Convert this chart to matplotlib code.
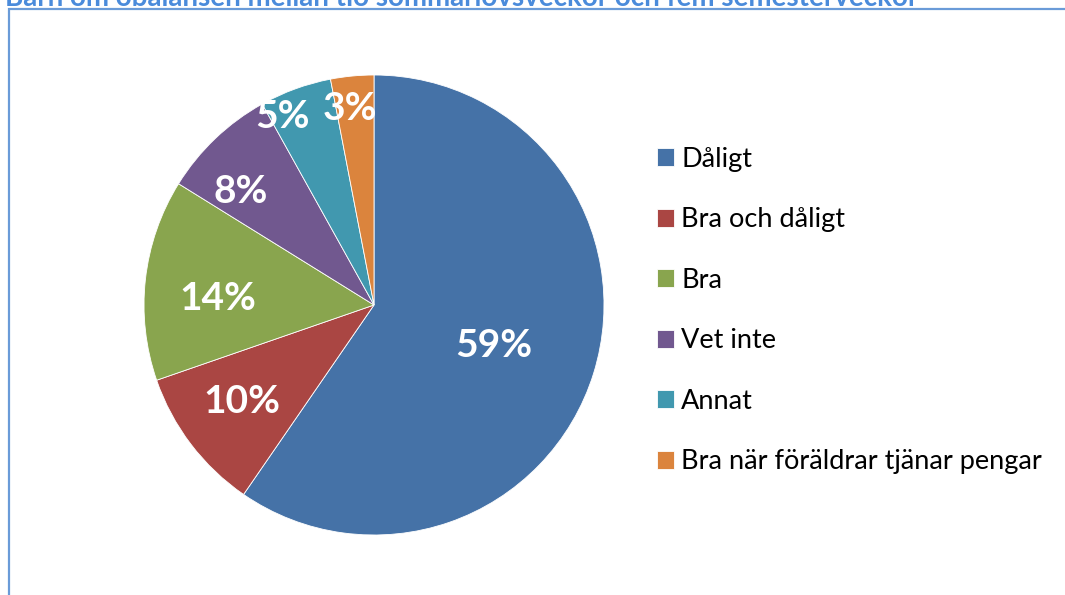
import matplotlib
matplotlib.use("Agg")
import numpy as np
import matplotlib.pyplot as plt
from matplotlib.patches import Rectangle

# Data
categories = [
    "Dåligt",
    "Bra och dåligt",
    "Bra",
    "Vet inte",
    "Annat",
    "Bra när föräldrar tjänar pengar",
]
shares = [59, 10, 14, 8, 5, 3]
title = "Barn om obalansen mellan tio sommarlovsveckor och fem semesterveckor"

colors = ["#4572A7", "#AA4643", "#89A54E", "#71588F", "#4198AF", "#DB843D"]
# label placement inside the wedges (radius fraction, angle nudge in degrees)
label_radius = [0.55, 0.71, 0.68, 0.76, 0.91, 0.86]
label_nudge = [-1.5, -1, 4, 6, 6, 1.5]

plt.rcParams["font.family"] = ["Lato", "DejaVu Sans"]

W, H = 1065, 595
fig = plt.figure(figsize=(W / 100, H / 100), dpi=100)
fig.patch.set_facecolor("white")

# chart frame (partly outside the crop)
fig.patches.append(
    Rectangle((8.5 / W, -0.05), 1.2, 1 - 9.5 / H + 0.05, transform=fig.transFigure,
              fill=False, edgecolor="#6A9BD8", linewidth=1.6, zorder=0)
)

# title, cut off by the top edge
fig.text(5 / W, 1 - 6 / H, title, color="#4A8BDB", fontsize=20, fontweight="bold",
         ha="left", va="baseline")

cx, cy, r = 374, 305, 230
ax = fig.add_axes([(cx - r) / W, (H - cy - r) / H, 2 * r / W, 2 * r / H])
wedges, _ = ax.pie(shares, colors=colors, startangle=90, counterclock=False,
                   radius=1, wedgeprops=dict(linewidth=0.6, edgecolor="white"))
ax.set_xlim(-1, 1)
ax.set_ylim(-1, 1)
ax.set_aspect("equal")
ax.axis("off")

for w, v, rr, dn in zip(wedges, shares, label_radius, label_nudge):
    th = np.deg2rad((w.theta1 + w.theta2) / 2 + dn)
    ax.text(rr * np.cos(th), rr * np.sin(th), f"{v}%",
            ha="center", va="center", color="white", fontsize=28, fontweight="bold")

leg = fig.legend(wedges, categories, loc="upper left",
                 bbox_to_anchor=(646 / W, 1 - 136 / H), frameon=False,
                 fontsize=19.5, handlelength=0.65, handleheight=0.65,
                 handletextpad=0.25, labelspacing=1.31, borderaxespad=0)

fig.savefig("out.png", dpi=100)
